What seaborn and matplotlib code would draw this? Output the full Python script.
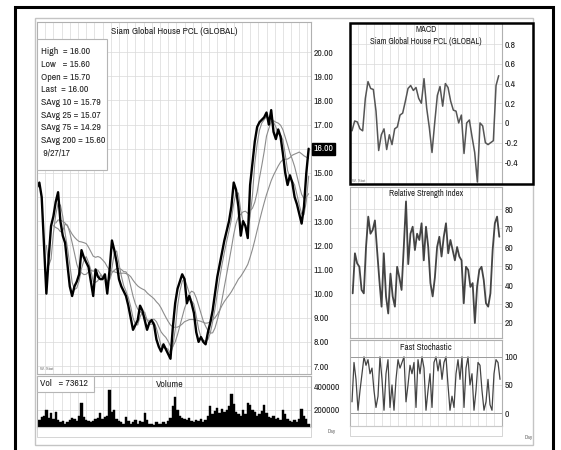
import numpy as np
import pandas as pd
import seaborn as sns
import matplotlib
matplotlib.use("Agg")
import matplotlib.pyplot as plt
from matplotlib.patches import Rectangle
from matplotlib import font_manager as fm

# ---------------- data ----------------
close = [14.4, 14.6, 14.0, 12.0, 10.0, 11.5, 12.8, 13.2, 13.8, 14.2, 13.0, 12.4, 12.1,
         11.2, 10.3, 9.9, 10.3, 10.5, 10.8, 11.8, 11.5, 11.3, 11.1, 10.5, 9.9, 11.0,
         10.7, 10.6, 10.6, 10.8, 10.0, 11.0, 12.2, 11.8, 11.3, 10.6, 10.3, 10.1, 9.9,
         9.5, 9.0, 8.5, 8.7, 8.9, 9.5, 9.3, 8.9, 8.5, 8.8, 8.9, 8.7, 8.1, 7.8, 7.6,
         7.9, 7.7, 7.5, 7.3, 8.6, 9.6, 10.2, 10.5, 10.8, 10.6, 9.6, 9.9, 9.6, 9.2,
         8.4, 8.0, 8.2, 8.0, 7.9, 8.4, 8.8, 9.3, 10.0, 10.7, 11.2, 11.7, 12.2, 12.6,
         13.0, 13.6, 14.6, 14.3, 13.6, 12.4, 13.0, 12.8, 12.3, 14.5, 15.4, 16.3, 16.9,
         17.1, 17.2, 17.3, 17.5, 17.0, 17.6, 16.7, 16.4, 16.8, 16.5, 15.8, 15.0, 14.5,
         14.9, 14.6, 14.0, 13.7, 13.3, 12.9, 13.6, 15.0, 16.0]

volume = [90, 110, 140, 150, 200, 130, 170, 120, 180, 110, 90, 100, 80, 95, 110, 130,
          120, 100, 150, 258, 140, 110, 100, 90, 100, 120, 130, 170, 120, 140, 150, 370,
          180, 200, 120, 100, 90, 80, 140, 100, 80, 90, 110, 80, 100, 90, 170, 110, 80,
          75, 70, 90, 80, 75, 90, 80, 100, 130, 230, 310, 200, 150, 130, 120, 110, 130,
          100, 90, 110, 100, 120, 90, 110, 150, 230, 160, 190, 220, 170, 210, 180, 200,
          230, 340, 250, 180, 160, 150, 200, 160, 260, 240, 200, 180, 150, 160, 190,
          240, 170, 140, 130, 150, 120, 130, 110, 200, 160, 120, 100, 90, 110, 90, 120,
          210, 150, 120, 74]
volume = [v * 1000 for v in volume]

macd = [-0.08, 0.02, 0.01, -0.06, -0.08, 0.25, 0.42, 0.35, 0.34, 0.12, -0.28, -0.12,
        -0.06, -0.27, -0.12, -0.22, -0.06, -0.04, 0.08, 0.10, 0.22, 0.35, 0.38, 0.33,
        0.36, 0.25, 0.20, 0.45, 0.15, -0.05, -0.30, 0.00, 0.28, 0.37, 0.17, 0.40, 0.36,
        0.22, 0.13, 0.12, 0.00, 0.08, -0.31, 0.00, 0.03, -0.14, -0.30, -0.60, 0.00,
        -0.03, -0.20, -0.22, -0.20, -0.18, 0.38, 0.48]

rsi = [35.6, 56.7, 51.4, 49.6, 37.4, 35.6, 60, 76, 67, 69, 74, 58, 42.6, 28.6, 56.7,
       34, 25, 46, 34, 28.6, 49.6, 44, 37.4, 60, 84, 51, 67, 70.7, 58.4, 67, 63.7, 72.5,
       53, 70.7, 60, 41, 34, 44, 60, 65.4, 55, 65.4, 72.5, 56.7, 63.7, 58.4, 53, 60, 55,
       53, 30.4, 49.6, 47.9, 39, 41, 20, 39, 47.9, 49.6, 42.6, 30.4, 28.6, 35.6, 58.4,
       72.5, 76, 65.4]

stoch = [20, 90, 60, 5, 40, 70, 100, 85, 95, 70, 80, 40, 10, 30, 100, 60, 5, 70, 95, 10,
         50, 5, 60, 95, 80, 90, 100, 20, 50, 85, 70, 90, 10, 95, 70, 100, 80, 5, 40, 70,
         10, 90, 100, 75, 95, 60, 90, 100, 50, 5, 30, 10, 70, 95, 60, 100, 10, 80, 100,
         50, 70, 5, 40, 90, 85, 40, 5, 20, 60, 15, 5, 70, 95, 90, 60]

price_ticks = [7, 8, 9, 10, 11, 12, 13, 14, 15, 16, 17, 18, 19, 20]
macd_ticks = [-0.4, -0.2, 0, 0.2, 0.4, 0.6, 0.8]
macd_tick_labels = ["-0.4", "-0.2", "0", "0.2", "0.4", "0.6", "0.8"]
rsi_ticks = [20, 30, 40, 50, 60, 70, 80]
stoch_ticks = [0, 50, 100]
volume_ticks = [200000, 400000]
info_lines = ["High  = 16.00", "Low   = 15.60", "Open = 15.70", "Last  = 16.00",
              "SAvg 10 = 15.79", "SAvg 25 = 15.07", "SAvg 75 = 14.29",
              "SAvg 200 = 15.60", " 9/27/17"]
last_price = 16.00
ma_windows = {"SAvg 25": 3, "SAvg 75": 8, "SAvg 200": 22}

# ---------------- style ----------------
sns.set_theme(style="white")
plt.rcParams["font.family"] = ["Liberation Sans", "DejaVu Sans"]

# pick an installed narrow sans font (the chart uses an Arial-Narrow-like face)
available = {}
for f in fm.fontManager.ttflist:
    if f.style == "normal" and str(f.weight) in ("400", "normal", "regular"):
        available.setdefault(f.name, f.fname)
preferred = ["Liberation Sans Narrow", "Arial Narrow", "Archivo Narrow", "PT Sans Narrow",
             "Roboto Condensed", "Pragati Narrow", "Open Sans Condensed",
             "Fira Sans Condensed", "IBM Plex Sans Condensed", "Asap Condensed",
             "Encode Sans Condensed", "Sofia Sans Condensed", "Barlow Semi Condensed"]
narrow = next((available[n] for n in preferred if n in available), None)
if narrow:
    FP = fm.FontProperties(fname=narrow)
    SCALE = 1.0
else:
    FP = fm.FontProperties(family=["Liberation Sans", "DejaVu Sans"])
    SCALE = 0.76


def fp(size):
    p = FP.copy()
    p.set_size(size * SCALE)
    return p


W, H = 561, 450
fig = plt.figure(figsize=(W / 100, H / 100), dpi=100)
fig.patch.set_facecolor("white")


def box(x0, y0, x1, y1):
    return fig.add_axes([x0 / W, 1 - y1 / H, (x1 - x0) / W, (y1 - y0) / H])


def ftext(x, y, s, size, **kw):
    fig.text(x / W, 1 - y / H, s, fontproperties=fp(size), **kw)


def frect(x0, y0, x1, y1, **kw):
    fig.add_artist(Rectangle((x0 / W, 1 - y1 / H), (x1 - x0) / W, (y1 - y0) / H,
                             transform=fig.transFigure, fill=False, **kw))


GRID = "#d9d9d9"
SPINE = "#b0b0b0"
TXT = "#222222"
TICK = 7.0


def style_axes(ax, xstep):
    ax.yaxis.tick_right()
    ax.tick_params(axis="y", length=0, pad=2, colors=TXT)
    ax.tick_params(axis="x", length=0, labelbottom=False)
    for lbl in ax.get_yticklabels():
        lbl.set_fontproperties(fp(TICK))
    ax.grid(True, color=GRID, lw=0.5)
    ax.set_xlabel("")
    ax.set_ylabel("")
    for s in ax.spines.values():
        s.set_color(SPINE)
        s.set_linewidth(0.8)
    lo, hi = ax.get_xlim()
    ax.set_xticks(np.arange(lo, hi, xstep))


# ---------------- outer frames ----------------
frect(15, 7, 553, 470, edgecolor="black", lw=2.2)
frect(35, 18, 533, 445, edgecolor="#c4c4c4", lw=1.0)

# ---------------- price panel ----------------
n = len(close)
df = pd.DataFrame({"i": np.arange(n), "close": close})
axp = box(37, 22, 311, 374)
for name, w in ma_windows.items():
    df[name] = df["close"].rolling(w, min_periods=1).mean()
    start = min(w // 2 + 3, 8)
    sns.lineplot(data=df.iloc[start:], x="i", y=name, color="#8c8c8c", lw=0.8, ax=axp)
sns.lineplot(data=df, x="i", y="close", color="black", lw=1.7, ax=axp)
axp.set_xlim(0, n)
axp.set_ylim(6.67, 21.25)
axp.set_yticks(price_ticks)
axp.set_yticklabels(["" if t == last_price else f"{t:.2f}" for t in price_ticks])
style_axes(axp, 3.5)
axp.text(1.008, last_price, f"{last_price:.2f}", transform=axp.get_yaxis_transform(),
         color="white", fontproperties=fp(TICK), va="center", ha="left",
         bbox=dict(facecolor="black", edgecolor="black", pad=1.2))
axp.text(0.5, 0.985, "Siam Global House PCL (GLOBAL)", transform=axp.transAxes,
         ha="center", va="top", fontproperties=fp(7.0), color=TXT)
axp.text(0.01, 0.012, "W. Stat", transform=axp.transAxes, fontsize=3, color="#666666")

# info box
fig.add_artist(Rectangle((37 / W, 1 - 170 / H), 70 / W, 131 / H, transform=fig.transFigure,
                         facecolor="white", edgecolor="#b5b5b5", lw=0.8, zorder=2))
for k, line in enumerate(info_lines):
    ftext(41, 52 + k * 12.6, line, 7.1, va="center", ha="left", color=TXT, zorder=3)

# ---------------- volume panel ----------------
axv = box(37, 376, 311, 427)
sns.barplot(x=np.arange(n), y=volume, native_scale=True, color="black", saturation=1,
            width=1.0, errorbar=None, ax=axv, edgecolor="black", linewidth=0.3)
axv.set_xlim(0, n)
axv.set_ylim(50000, 496000)
axv.set_yticks(volume_ticks)
axv.set_yticklabels([str(v) for v in volume_ticks])
style_axes(axv, 3.5)
axv.text(0.485, 0.84, "Volume", transform=axv.transAxes, ha="center", va="center",
         fontproperties=fp(7.1), color=TXT)
fig.add_artist(Rectangle((37 / W, 1 - 392 / H), 57 / W, 16 / H, transform=fig.transFigure,
                         facecolor="white", edgecolor="#b5b5b5", lw=0.8, zorder=2))
ftext(40, 384, "Vol   = 73612", 7.1, va="center", ha="left", color=TXT, zorder=3)
frect(37, 427, 311, 437, edgecolor="#cfcfcf", lw=0.6)
ftext(328, 432, "Day", 4, color="#666666", va="center")


# ---------------- right panels ----------------
def xlims_for(npts, a, b):
    s = (b - a) / (npts - 1)
    return (-(a - 350) / s, (npts - 1) + (502 - b) / s), s


# MACD
axm = box(350, 23, 502, 184)
dm = pd.DataFrame({"i": np.arange(len(macd)), "v": macd})
sns.lineplot(data=dm, x="i", y="v", color="#555555", lw=1.1, ax=axm)
(l0, l1), s = xlims_for(len(macd), 352, 498.7)
axm.set_xlim(l0, l1)
axm.set_ylim(-0.62, 1.015)
axm.set_yticks(macd_ticks)
axm.set_yticklabels(macd_tick_labels)
style_axes(axm, 8 / s)
axm.text(0.5, 0.985, "MACD", transform=axm.transAxes, ha="center", va="top",
         fontproperties=fp(6.4), color=TXT)
axm.text(0.5, 0.915, "Siam Global House PCL (GLOBAL)", transform=axm.transAxes,
         ha="center", va="top", fontproperties=fp(6.2), color=TXT)
axm.text(0.01, 0.012, "W. Stat", transform=axm.transAxes, fontsize=3, color="#666666")
frect(350, 23, 533, 184, edgecolor="black", lw=1.8)

# RSI
axr = box(350, 187, 502, 338)
dr = pd.DataFrame({"i": np.arange(len(rsi)), "v": rsi})
sns.lineplot(data=dr, x="i", y="v", color="#444444", lw=1.3, ax=axr)
(l0, l1), s = xlims_for(len(rsi), 352.7, 499.3)
axr.set_xlim(l0, l1)
axr.set_ylim(12.1, 91.6)
axr.set_yticks(rsi_ticks)
axr.set_yticklabels([str(t) for t in rsi_ticks])
style_axes(axr, 8 / s)
axr.text(0.5, 0.985, "Relative Strength Index", transform=axr.transAxes, ha="center",
         va="top", fontproperties=fp(6.2), color=TXT)

# Fast Stochastic
axs = box(350, 340, 502, 426)
ds = pd.DataFrame({"i": np.arange(len(stoch)), "v": stoch})
sns.lineplot(data=ds, x="i", y="v", color="#444444", lw=0.9, ax=axs)
(l0, l1), s = xlims_for(len(stoch), 352, 500)
axs.set_xlim(l0, l1)
axs.set_ylim(-23, 130)
axs.set_yticks(stoch_ticks)
axs.set_yticklabels([str(t) for t in stoch_ticks])
style_axes(axs, 8 / s)
axs.axhline(0, color="#9a9a9a", lw=0.7)
axs.axhline(100, color="#9a9a9a", lw=0.7)
axs.text(0.5, 0.97, "Fast Stochastic", transform=axs.transAxes, ha="center", va="top",
         fontproperties=fp(6.6), color=TXT)
frect(350, 426, 502, 436, edgecolor="#cfcfcf", lw=0.6)
ftext(525, 437, "Day", 4, color="#666666", va="center")

fig.savefig("out.png", dpi=100, facecolor="white")
